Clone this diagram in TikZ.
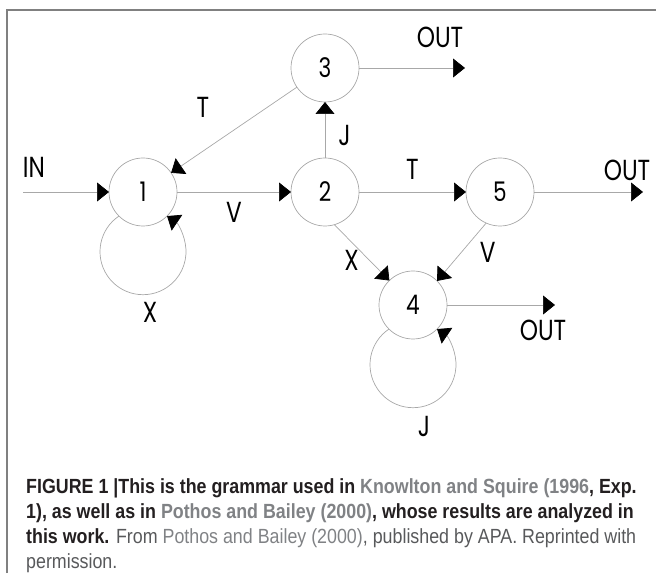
\documentclass[tikz,border=0pt]{standalone}
\usepackage{fontspec}
\usepackage{tikz}
\usetikzlibrary{arrows.meta}

\newfontfamily\diafont[FakeStretch=0.8]{Poppins}
\newfontfamily\capfont[FakeStretch=0.87]{Liberation Sans}

\definecolor{linegray}{HTML}{A8A8A8}
\definecolor{framegray}{HTML}{808080}
\definecolor{capdark}{HTML}{231F20}
\definecolor{caplink}{HTML}{808285}
\definecolor{captext}{HTML}{58595B}

\begin{document}
\begin{tikzpicture}[x=1pt,y=1pt,
    state/.style={draw=linegray,line width=0.7pt,shape=circle,minimum size=68pt,inner sep=0pt,outer sep=0pt,font=\diafont\fontsize{27}{27}\selectfont},
    lbl/.style={inner sep=0pt,font=\diafont\fontsize{29}{29}\selectfont},
    arr/.style={draw=linegray,line width=0.7pt,-{Triangle[length=12pt,width=19pt,color=black]}}]
    \useasboundingbox (0,0) rectangle (656,573);
    \draw [framegray,line width=1.5pt] (7,0) -- (7,563) -- (656,563);

    		\draw (143,381) 	node (s1) [state] {1};
    		\draw (325,381) 	node (s2) [state] {2};
    		\draw (325,505) 	node (s3) [state] {3};
    		\draw (413,268) 	node (s4) [state] {4};
    		\draw (500,381) 	node (s5) [state] {5};

    		\coordinate (in) at (23,381);
    		\coordinate (o3) at (465,505);
    		\coordinate (o5) at (643,381);
    		\coordinate (o4) at (555,268);

    		\draw (in) edge [arr] (s1);
    		\draw (s1) edge [arr] node [lbl,below=10pt] {V} (s2);
    		\draw (s2) edge [arr] node [lbl,pos=0.4,right=13pt] {J} (s3);
    		\draw (s3) edge [arr] node [lbl,pos=0.56,above left=17pt] {T} (s1);
    		\draw (s2) edge [arr] node [lbl,above=12pt] {T} (s5);
    		\draw (s2.286) edge [arr] node [lbl,pos=0.45,below left] {X} (s4.134);
    		\draw (s5.246) edge [arr] node [lbl,right=18pt] {V} (s4.45);
    		\draw (s3) edge [arr] (o3);
    		\draw (s5) edge [arr] (o5);
    		\draw (s4) edge [arr] (o4);

    		% self loops
    		\draw [arr] (s1.225) arc [start angle=124,end angle=416,radius=43];
    		\draw [arr] (s4.225) arc [start angle=124,end angle=416,radius=43];

    		\draw (34,406) 	node (lin) [lbl] {IN};
    		\draw (440,536) 	node (lout3) [lbl] {OUT};
    		\draw (627,403) 	node (lout5) [lbl] {OUT};
    		\draw (543,243) 	node (lout4) [lbl] {OUT};
    		\draw (150,261) 	node (lx1) [lbl] {X};
    		\draw (424,147) 	node (lj4) [lbl] {J};

    		\draw (26,95) node (cap) [anchor=north west,inner sep=0pt,align=left,text=capdark,font=\capfont\fontsize{20.5}{25.3}\selectfont]
    		  {\textbf{FIGURE 1 |This is the grammar used in {\color{caplink}Knowlton and Squire (1996}, Exp.}\\
    		   \textbf{1), as well as in {\color{caplink}Pothos and Bailey (2000)}, whose results are analyzed in}\\
    		   \textbf{this work.} {\color{captext}From} {\color{caplink}Pothos and Bailey (2000)}{\color{captext}, published by APA. Reprinted with}\\
    		   {\color{captext}permission.}};
\end{tikzpicture}
\end{document}
